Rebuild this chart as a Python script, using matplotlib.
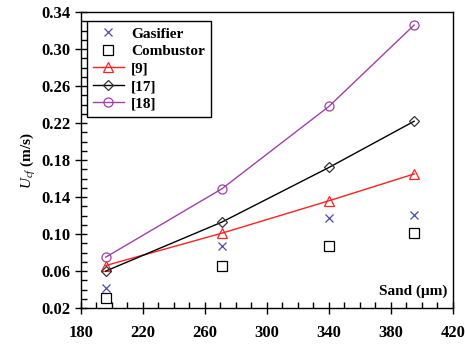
import matplotlib
matplotlib.use("Agg")
import matplotlib.pyplot as plt
from matplotlib.ticker import MultipleLocator

x = [196, 271, 340, 395]
gasifier = [0.042, 0.087, 0.117, 0.121]
combustor = [0.031, 0.065, 0.087, 0.101]
ref9 = [0.066, 0.101, 0.136, 0.165]
ref17 = [0.060, 0.113, 0.172, 0.222]
ref18 = [0.075, 0.149, 0.238, 0.326]

plt.rcParams['font.family'] = ['Liberation Serif', 'DejaVu Serif']
plt.rcParams['mathtext.fontset'] = 'custom'
plt.rcParams['mathtext.it'] = 'Liberation Serif:italic'
plt.rcParams['mathtext.rm'] = 'Liberation Serif'

fig = plt.figure(figsize=(4.65, 3.45), dpi=100)
ax = fig.add_axes([0.174, 0.107, 0.8, 0.858])

ax.plot(x, gasifier, linestyle='none', marker='x', color='#4a4ab8', ms=6, mew=0.9, label='Gasifier')
ax.plot(x, combustor, linestyle='none', marker='s', mfc='none', mec='black', ms=6.5, mew=0.9, label='Combustor')
ax.plot(x, ref9, color='#ff2020', lw=1, marker='^', mfc='none', mec='#ff2020', ms=6.5, mew=0.9, label='[9]')
ax.plot(x, ref17, color='black', lw=1, marker='D', mfc='none', mec='#333333', ms=5.5, mew=0.9, label='[17]')
ax.plot(x, ref18, color='#a040a8', lw=1, marker='o', mfc='none', mec='#a040a8', ms=6.5, mew=0.9, label='[18]')

ax.set_xlim(180, 420)
ax.set_ylim(0.02, 0.34)
ax.xaxis.set_minor_locator(MultipleLocator(10))
ax.yaxis.set_minor_locator(MultipleLocator(0.01))
ax.set_xticks([180, 220, 260, 300, 340, 380, 420])
ax.set_xticklabels(['180', '220', '260', '300', '340', '380', '420'])
ax.set_yticks([0.02, 0.06, 0.10, 0.14, 0.18, 0.22, 0.26, 0.30, 0.34])
ax.set_yticklabels(['0.02', '0.06', '0.10', '0.14', '0.18', '0.22', '0.26', '0.30', '0.34'])

ax.tick_params(which='major', direction='inout', length=8, width=1, labelsize=12, top=False, right=False)
ax.tick_params(which='minor', direction='in', length=4, width=1, top=False, right=False)
for lab in ax.get_xticklabels() + ax.get_yticklabels():
    lab.set_fontweight('bold')
ax.tick_params(axis='x', pad=8)

for s in ax.spines.values():
    s.set_linewidth(1)

ax.set_ylabel(r'$U_{cf}$ (m/s)', fontsize=11, fontweight='bold', labelpad=2)
ax.text(0.985, 0.035, 'Sand (\u03bcm)', transform=ax.transAxes, ha='right', va='bottom',
        fontsize=11, fontweight='bold')

leg = ax.legend(loc='upper left', bbox_to_anchor=(0.016, 0.97), borderaxespad=0,
                fancybox=False, edgecolor='black',
                prop={'weight': 'bold', 'size': 11}, handlelength=2.0, handletextpad=0.5,
                borderpad=0.4, labelspacing=0.25, framealpha=1)
leg.get_frame().set_linewidth(1)

fig.savefig('out.png', dpi=100)
